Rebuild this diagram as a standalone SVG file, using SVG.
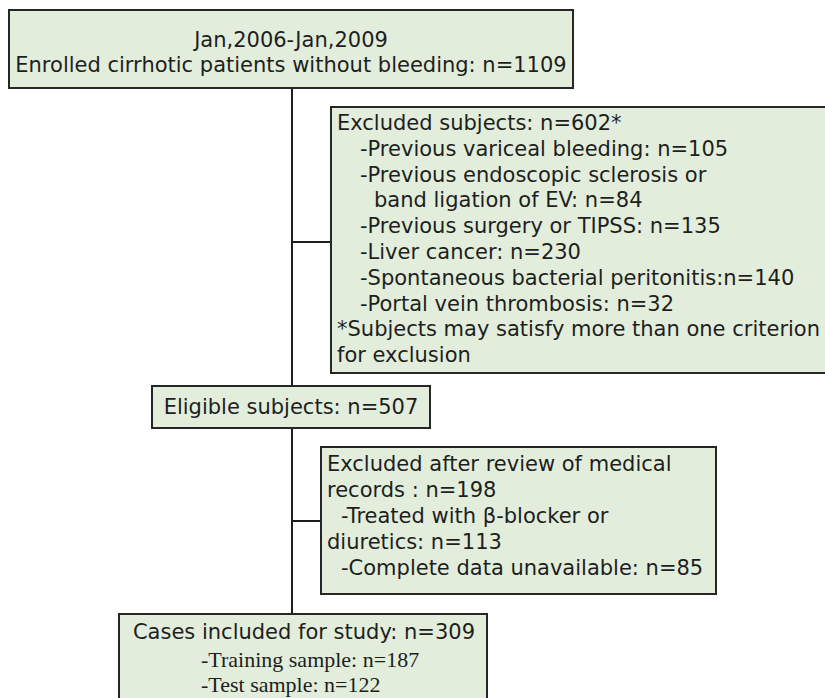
<svg xmlns="http://www.w3.org/2000/svg" width="825" height="698" viewBox="0 0 825 698">
<style>
.box{fill:#e2eedb;stroke:#262626;stroke-width:2}
.t{font-family:"DejaVu Sans",Verdana,sans-serif;font-size:21px;fill:#1e1e1e}
.s{font-family:"Liberation Serif","Times New Roman",serif;font-size:22px;fill:#1e1e1e}
.c{text-anchor:middle}
.ln{stroke:#1e1e1e;stroke-width:2;fill:none}
</style>
<rect width="825" height="698" fill="#ffffff"/>
<g id="connectors">
<line class="ln" x1="292" y1="88" x2="292" y2="386"/>
<line class="ln" x1="292" y1="242" x2="331" y2="242"/>
<line class="ln" x1="292" y1="428" x2="292" y2="614"/>
<line class="ln" x1="292" y1="521" x2="321" y2="521"/>
</g>
<g id="enrolled">
<rect class="box" x="9" y="10" width="564" height="78"/>
<text class="t c" x="291" y="47">Jan,2006-Jan,2009</text>
<text class="t c" x="291" y="72">Enrolled cirrhotic patients without bleeding: n=1109</text>
</g>
<g id="excluded1">
<rect class="box" x="331" y="107" width="500" height="266"/>
<text class="t" x="337" y="130">Excluded subjects: n=602*</text>
<text class="t" x="360" y="155.8">-Previous variceal bleeding: n=105</text>
<text class="t" x="360" y="181.6">-Previous endoscopic sclerosis or</text>
<text class="t" x="374" y="207.4">band ligation of EV: n=84</text>
<text class="t" x="360" y="233.2">-Previous surgery or TIPSS: n=135</text>
<text class="t" x="360" y="259">-Liver cancer: n=230</text>
<text class="t" x="360" y="284.8">-Spontaneous bacterial peritonitis:n=140</text>
<text class="t" x="360" y="310.6">-Portal vein thrombosis: n=32</text>
<text class="t" x="337" y="336.4">*Subjects may satisfy more than one criterion</text>
<text class="t" x="337" y="362.2">for exclusion</text>
</g>
<g id="eligible">
<rect class="box" x="152" y="386" width="278" height="42"/>
<text class="t c" x="291" y="414">Eligible subjects: n=507</text>
</g>
<g id="excluded2">
<rect class="box" x="321" y="447" width="395" height="147"/>
<text class="t" x="327" y="471">Excluded after review of medical</text>
<text class="t" x="327" y="497">records : n=198</text>
<text class="t" x="341" y="523">-Treated with β-blocker or</text>
<text class="t" x="327" y="549">diuretics: n=113</text>
<text class="t" x="341" y="575">-Complete data unavailable: n=85</text>
</g>
<g id="included">
<rect class="box" x="119" y="614" width="368" height="100"/>
<text class="t c" x="304" y="639">Cases included for study: n=309</text>
<text class="s" x="201" y="666.5">-Training sample: n=187</text>
<text class="s" x="201" y="691.5">-Test sample: n=122</text>
</g>
</svg>
